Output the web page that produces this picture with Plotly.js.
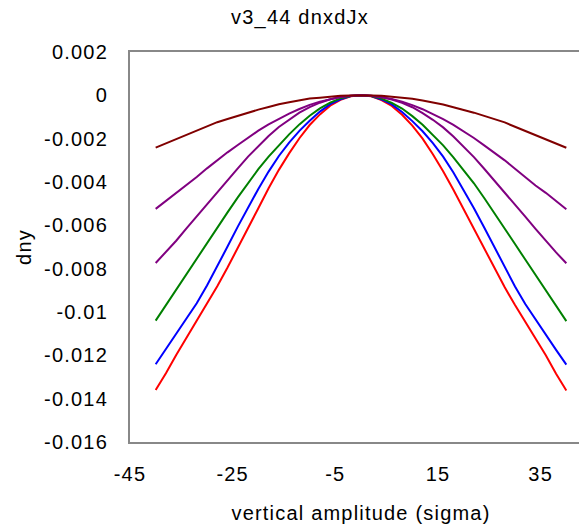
<!DOCTYPE html>
<html>
<head>
<meta charset="utf-8">
<script src="https://cdn.plot.ly/plotly-3.0.1.min.js"></script>
<style>
html, body { margin: 0; padding: 0; overflow: hidden; background: #fff; }
#chart { width: 600px; height: 531px; }
#chart svg text { letter-spacing: 1.2px; }
</style>
</head>
<body>
<div id="chart"></div>
<script>
// vertical amplitude (sigma)
const xValues = [-40,-38,-36,-34,-32,-30,-28,-26,-24,-22,-20,-18,-16,-14,-12,-10,-8,-6,-4,-2,0,
                 2,4,6,8,10,12,14,16,18,20,22,24,26,28,30,32,34,36,38,40];

const seriesRed = [-0.01360,-0.01283,-0.01198,-0.01118,-0.01044,-0.00964,-0.00881,-0.00795,-0.00706,-0.00614,-0.00521,-0.00429,-0.00344,-0.00268,-0.00198,-0.00137,-0.00088,-0.00048,-0.00021,-0.00004,0,
                   -0.00004,-0.00022,-0.00049,-0.00090,-0.00140,-0.00200,-0.00272,-0.00350,-0.00436,-0.00526,-0.00620,-0.00712,-0.00800,-0.00886,-0.00968,-0.01046,-0.01120,-0.01200,-0.01285,-0.01362];
const seriesBlue = [-0.01241,-0.01172,-0.01103,-0.01032,-0.00960,-0.00878,-0.00791,-0.00698,-0.00606,-0.00517,-0.00432,-0.00352,-0.00280,-0.00218,-0.00164,-0.00117,-0.00075,-0.00041,-0.00018,-0.00003,0,
                    -0.00003,-0.00019,-0.00042,-0.00077,-0.00119,-0.00166,-0.00221,-0.00283,-0.00356,-0.00436,-0.00521,-0.00610,-0.00702,-0.00795,-0.00882,-0.00963,-0.01035,-0.01106,-0.01175,-0.01243];
const seriesGreen = [-0.01040,-0.00968,-0.00895,-0.00826,-0.00755,-0.00683,-0.00611,-0.00540,-0.00471,-0.00403,-0.00341,-0.00283,-0.00229,-0.00180,-0.00134,-0.00094,-0.00060,-0.00034,-0.00014,-0.00003,0,
                     -0.00003,-0.00015,-0.00035,-0.00061,-0.00096,-0.00136,-0.00182,-0.00231,-0.00286,-0.00344,-0.00406,-0.00474,-0.00543,-0.00614,-0.00686,-0.00758,-0.00829,-0.00898,-0.00970,-0.01042];
const seriesPurple2 = [-0.00774,-0.00724,-0.00671,-0.00614,-0.00558,-0.00501,-0.00446,-0.00391,-0.00337,-0.00283,-0.00234,-0.00188,-0.00146,-0.00111,-0.00080,-0.00054,-0.00034,-0.00018,-0.00008,-0.00002,0,
                       -0.00002,-0.00008,-0.00019,-0.00035,-0.00055,-0.00082,-0.00113,-0.00148,-0.00190,-0.00236,-0.00285,-0.00339,-0.00393,-0.00448,-0.00503,-0.00560,-0.00616,-0.00672,-0.00725,-0.00775];
const seriesPurple1 = [-0.00524,-0.00488,-0.00448,-0.00414,-0.00377,-0.00337,-0.00298,-0.00263,-0.00229,-0.00195,-0.00163,-0.00134,-0.00109,-0.00084,-0.00063,-0.00044,-0.00029,-0.00017,-0.00008,-0.00002,0,
                       -0.00002,-0.00008,-0.00017,-0.00030,-0.00045,-0.00064,-0.00086,-0.00110,-0.00136,-0.00165,-0.00197,-0.00231,-0.00265,-0.00300,-0.00339,-0.00379,-0.00416,-0.00450,-0.00490,-0.00526];
const seriesDarkRed = [-0.00241,-0.00221,-0.00203,-0.00183,-0.00164,-0.00144,-0.00124,-0.00109,-0.00094,-0.00078,-0.00066,-0.00054,-0.00041,-0.00032,-0.00023,-0.00015,-0.00011,-0.00006,-0.00002,-0.00001,0,
                       -0.00001,-0.00002,-0.00006,-0.00011,-0.00016,-0.00024,-0.00033,-0.00042,-0.00055,-0.00067,-0.00080,-0.00095,-0.00110,-0.00125,-0.00145,-0.00165,-0.00184,-0.00204,-0.00222,-0.00242];

const yTickVals = [0.002,0,-0.002,-0.004,-0.006,-0.008,-0.01,-0.012,-0.014,-0.016];
const yTickText = ["0.002","0","-0.002","-0.004","-0.006","-0.008","-0.01","-0.012","-0.014","-0.016"];
const xTickVals = [-45,-25,-5,15,35];
const xTickText = ["-45","-25","-5","15","35"];

const series = [
  {y: seriesRed, color: '#FF0000'},
  {y: seriesBlue, color: '#0000FF'},
  {y: seriesGreen, color: '#008000'},
  {y: seriesPurple2, color: '#800080'},
  {y: seriesPurple1, color: '#800080'},
  {y: seriesDarkRed, color: '#800000'}
];

const traces = series.map(s => ({
  x: xValues, y: s.y, type: 'scatter', mode: 'lines',
  line: {color: s.color, width: 2}, hoverinfo: 'skip'
}));

const FONT = 'Liberation Sans, Arial, sans-serif';
const FS = 20;
const layout = {
  width: 600, height: 531,
  margin: {l: 130, r: 8, t: 52, b: 89},
  paper_bgcolor: '#ffffff', plot_bgcolor: '#ffffff',
  showlegend: false,
  font: {family: FONT, size: FS, color: '#000'},
  title: {text: 'v3_44 dnxdJx', x: 0.5, xref: 'container', xanchor: 'center',
          y: 1 - 17/531, yref: 'container', yanchor: 'middle',
          font: {family: FONT, size: FS, color: '#000'}},
  xaxis: {
    range: [-45, 45], tickvals: xTickVals, ticktext: xTickText,
    showgrid: false, zeroline: false, ticks: '',
    showline: true, linecolor: '#888888', linewidth: 2, mirror: true,
    ticklabelstandoff: 13,
    title: {text: 'vertical amplitude (sigma)', standoff: 22, font: {family: FONT, size: FS, color: '#000'}}
  },
  yaxis: {
    range: [-0.016, 0.002], tickvals: yTickVals, ticktext: yTickText,
    showgrid: false, zeroline: false, ticks: '',
    showline: true, linecolor: '#888888', linewidth: 2, mirror: true,
    ticklabelstandoff: 16,
    title: {text: 'dny', standoff: 14, font: {family: FONT, size: FS, color: '#000'}}
  }
};

Plotly.newPlot('chart', traces, layout, {staticPlot: true, displayModeBar: false});
</script>
</body>
</html>
